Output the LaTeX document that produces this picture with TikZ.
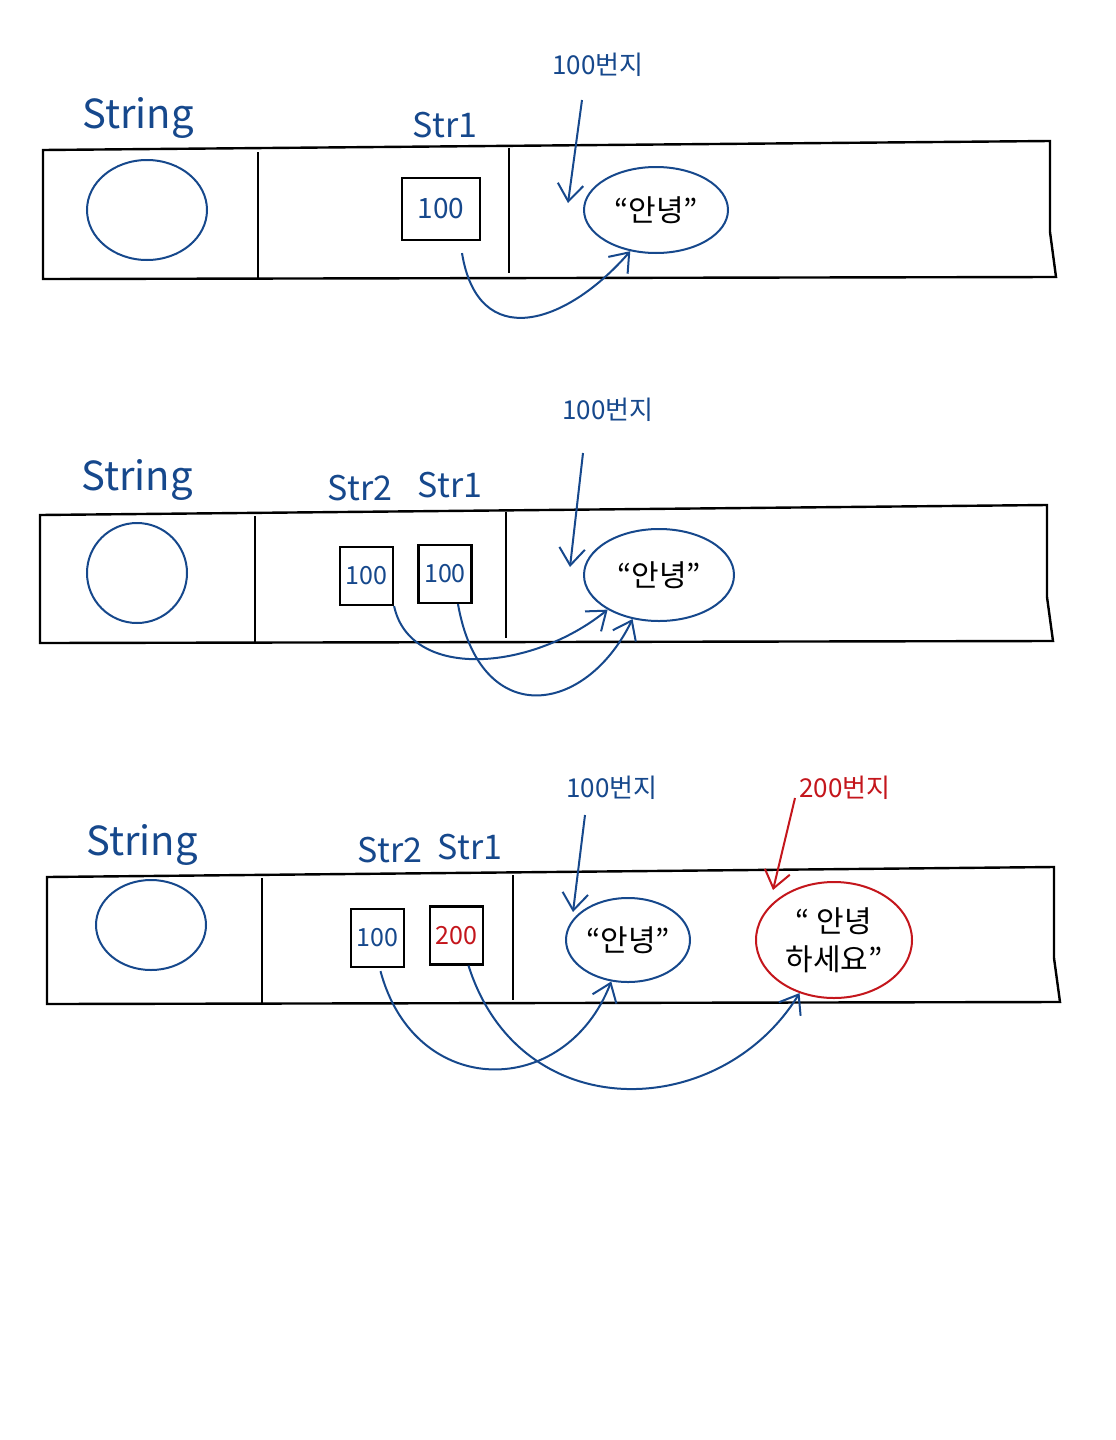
\documentclass[tikz,border=0pt]{standalone}
\usepackage{fontspec}
\setmainfont{Noto Sans CJK KR}
\usetikzlibrary{arrows.meta,shapes.geometric}
\definecolor{penblue}{RGB}{22,72,140}
\definecolor{penred}{RGB}{196,22,28}
\tikzset{
  heapframe/.style={draw=black, line width=1.2pt},
  obj/.style={draw=penblue, line width=1pt},
  typename/.style={text=penblue, font=\fontsize{20}{24}\selectfont, inner sep=0pt},
  varname/.style={text=penblue, font=\fontsize{17}{20}\selectfont, inner sep=0pt},
  cell/.style={draw=black, line width=1.1pt, text=penblue, font=\fontsize{12.5}{15}\selectfont,
    minimum width=26.5pt, minimum height=29pt, inner sep=0pt},
  addr/.style={text=penblue, font=\fontsize{13}{16}\selectfont, inner sep=0pt},
  strobj/.style={ellipse, draw=penblue, line width=1pt, align=center,
    font=\fontsize{15}{19}\selectfont, inner sep=0pt},
  ptr/.style={draw=penblue, line width=1pt, -{Straight Barb[length=3mm,width=4.5mm]}},
  redptr/.style={ptr, draw=penred},
}

\begin{document}
\begin{tikzpicture}[x=0.5pt,y=-0.5pt]
\fill[white] (0,0) rectangle (1115,1440);
\useasboundingbox (0,0) rectangle (1115,1440);
% first row: one reference
\draw[heapframe] (43,150) -- (1050,141) -- (1050,232) -- (1056,277) -- (43,279) -- cycle;
\draw[heapframe] (258,152) -- (258,279);
\draw[heapframe] (509,148) -- (509,273);
\draw[obj] (147,210) ellipse [x radius=60, y radius=50];
\node[typename] (type1) at (138,118) {String};
\node[varname] (var1) at (445,125) {Str1};
\node[cell, minimum width=39pt, minimum height=31pt, font=\fontsize{14}{17}\selectfont] (ref1) at (441,209) {100};
\node[strobj, minimum width=72pt, minimum height=43pt] (hello1) at (656,210) {“안녕”};
\node[addr] (addr1) at (598,65) {100번지};
\coordinate (tip1) at (568,203);
\draw[ptr] ([shift={(-16,35)}]addr1.center) -- (tip1);
\draw[ptr] ([shift={(21,12)}]ref1.south) .. controls (478,352) and (565,326) .. (hello1.238);
% second row: two references to the same object
\draw[heapframe] (40,515) -- (1047,505) -- (1047,597) -- (1053,641) -- (40,643) -- cycle;
\draw[heapframe] (255,516) -- (255,643);
\draw[heapframe] (506,512) -- (506,638);
\draw[obj] (137,573) ellipse [x radius=50, y radius=50];
\node[typename] (type2) at (137,480) {String};
\node[varname] (var2b) at (360,488) {Str2};
\node[varname] (var2a) at (450,485) {Str1};
\node[cell] (ref2b) at (366.5,576) {100};
\node[cell] (ref2a) at (445,574) {100};
\node[strobj, minimum width=75pt, minimum height=46pt] (hello2) at (659,575) {“안녕”};
\node[addr] (addr2) at (608,410) {100번지};
\coordinate (tip2) at (570,567);
\draw[ptr] ([shift={(-25,43)}]addr2.center) -- (tip2);
\draw[ptr] (ref2b.south east) .. controls (410,680) and (530,672) .. (hello2.214);
\draw[ptr] ([shift={(13,0)}]ref2a.south) .. controls (480,730) and (585,716) .. (hello2.239);
% third row: Str1 points to a new object
\draw[heapframe] (47,877) -- (1054,867) -- (1054,958) -- (1060,1002) -- (47,1004) -- cycle;
\draw[heapframe] (262,878) -- (262,1004);
\draw[heapframe] (513,875) -- (513,1000);
\draw[obj] (151,925) ellipse [x radius=55, y radius=45];
\node[typename] (type3) at (142,845) {String};
\node[varname] (var3b) at (390,850) {Str2};
\node[varname] (var3a) at (470,847) {Str1};
\node[cell] (ref3b) at (377.5,938) {100};
\node[cell, text=penred] (ref3a) at (456.5,935.5) {200};
\node[strobj, minimum width=62pt, minimum height=42pt] (hello3) at (628,940) {“안녕”};
\node[strobj, draw=penred, minimum width=78pt, minimum height=58pt] (hello4) at (834,940) {“ 안녕\\하세요”};
\node[addr] (addr3) at (612,788) {100번지};
\node[addr, text=penred] (addr4) at (845,788) {200번지};
\coordinate (tip3) at (573,912);
\coordinate (tip4) at (773,890);
\draw[ptr] ([shift={(-27,27)}]addr3.center) -- (tip3);
\draw[redptr] ([shift={(-50,10)}]addr4.center) -- (tip4);
\draw[ptr] ([shift={(3,3)}]ref3b.south) .. controls (415,1100) and (565,1100) .. (hello3.248);
\draw[ptr] ([shift={(12,0)}]ref3a.south) .. controls (520,1128) and (720,1122) .. (hello4.237);
\end{tikzpicture}
\end{document}
